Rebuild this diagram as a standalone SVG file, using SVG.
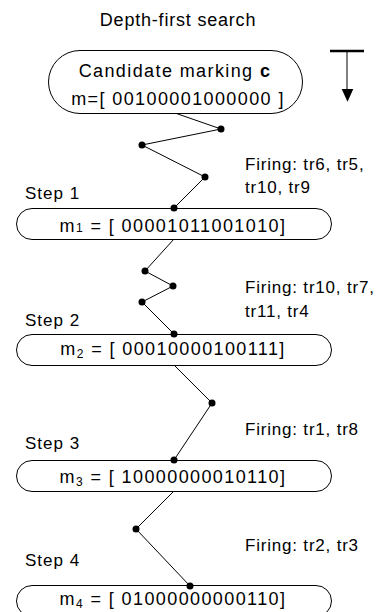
<svg xmlns="http://www.w3.org/2000/svg" width="385" height="612" viewBox="0 0 385 612">
<style>
text{font-family:"Liberation Sans",Arial,sans-serif;fill:#000}
.t{font-size:18px;letter-spacing:0.8px}
.m{font-size:18px;letter-spacing:1.4px}
.f{font-size:17px;letter-spacing:0.8px}
.s{font-size:17px;letter-spacing:1px}
.box{fill:#fff;stroke:#000;stroke-width:1}
.ln{fill:none;stroke:#000;stroke-width:1}
.dot{fill:#000}
</style>
<text class="t" x="178" y="25.5" text-anchor="middle">Depth-first search</text>
<g id="direction">
<line x1="330" y1="51" x2="364" y2="51" stroke="#000" stroke-width="2.5"/>
<line x1="347" y1="51" x2="347" y2="91" stroke="#000" stroke-width="1"/>
<polygon points="341.7,89 353.3,89 347.5,101.7" fill="#000"/>
</g>
<g id="connectors">
<polyline class="ln" points="175,113 221,129 142,145 205,177 174,208"/>
<polyline class="ln" points="174,239 145,271 173,286 142,302 174,334"/>
<polyline class="ln" points="174,365 212,403 174,460"/>
<polyline class="ln" points="174,491 136,529 190,586"/>
<circle class="dot" cx="221" cy="129" r="3.5"/>
<circle class="dot" cx="142" cy="145" r="3.5"/>
<circle class="dot" cx="205" cy="177" r="3.5"/>
<circle class="dot" cx="145" cy="271" r="3.5"/>
<circle class="dot" cx="173" cy="286" r="3.5"/>
<circle class="dot" cx="142" cy="302" r="3.5"/>
<circle class="dot" cx="212" cy="403" r="3.5"/>
<circle class="dot" cx="136" cy="529" r="3.5"/>
</g>
<g id="candidate">
<rect class="box" x="48.5" y="50.5" width="254" height="63" rx="31.5" ry="31.5"/>
<text class="m" x="175" y="76.5" text-anchor="middle">Candidate marking <tspan font-weight="bold">c</tspan></text>
<text class="m" x="178" y="104.5" text-anchor="middle">m=[ 00100001000000 ]</text>
</g>
<g id="step1">
<text class="s" x="25" y="199">Step 1</text>
<text class="f" x="245" y="170">Firing: tr6, tr5,</text>
<text class="f" x="245" y="193">tr10, tr9</text>
<rect class="box" x="16.5" y="208.5" width="315" height="31" rx="15.5" ry="15.5"/>
<circle class="dot" cx="174" cy="208" r="3.5"/>
<text class="m" x="173" y="232" text-anchor="middle">m<tspan font-size="12px">1</tspan> = [ 00001011001010]</text>
</g>
<g id="step2">
<text class="s" x="25" y="326">Step 2</text>
<text class="f" x="245" y="293">Firing: tr10, tr7,</text>
<text class="f" x="245" y="317">tr11, tr4</text>
<rect class="box" x="16.5" y="334.5" width="315" height="31" rx="15.5" ry="15.5"/>
<circle class="dot" cx="174" cy="334" r="3.5"/>
<text class="m" x="173" y="355" text-anchor="middle">m<tspan font-size="12px" dy="3">2</tspan><tspan dy="-3"> = [ 00010000100111]</tspan></text>
</g>
<g id="step3">
<text class="s" x="25" y="449">Step 3</text>
<text class="f" x="245" y="435">Firing: tr1, tr8</text>
<rect class="box" x="16.5" y="460.5" width="315" height="31" rx="15.5" ry="15.5"/>
<circle class="dot" cx="174" cy="460" r="3.5"/>
<text class="m" x="173" y="482.5" text-anchor="middle">m<tspan font-size="12px" dy="3">3</tspan><tspan dy="-3"> = [ 10000000010110]</tspan></text>
</g>
<g id="step4">
<text class="s" x="25" y="566">Step 4</text>
<text class="f" x="245" y="551">Firing: tr2, tr3</text>
<rect class="box" x="16.5" y="585.5" width="315" height="31" rx="15.5" ry="15.5"/>
<circle class="dot" cx="190" cy="586" r="3.5"/>
<text class="m" x="173" y="605" text-anchor="middle">m<tspan font-size="12px" dy="3">4</tspan><tspan dy="-3"> = [ 01000000000110]</tspan></text>
</g>
</svg>
